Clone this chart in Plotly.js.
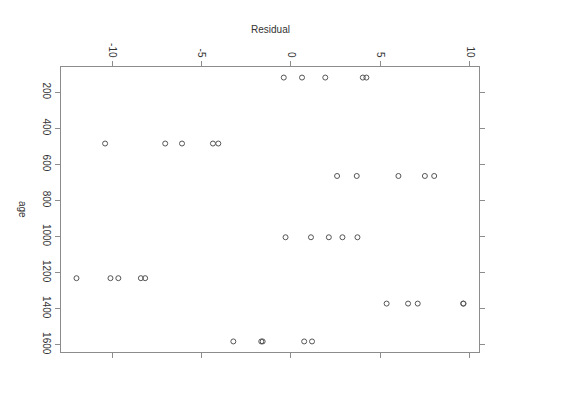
<!DOCTYPE html>
<html>
<head>
<meta charset="utf-8">
<script src="https://cdn.plot.ly/plotly-3.0.1.min.js"></script>
<style>html,body{margin:0;padding:0;background:#fff;}#chart{width:561px;height:397px;}</style>
</head>
<body>
<div id="chart"></div>
<script>
// Data (age groups and residuals per group)
var ages = [118, 484, 664, 1004, 1231, 1372, 1582];
var res118  = [-0.40, 0.62, 1.92, 4.02, 4.22];
var res484  = [-10.39, -7.03, -6.09, -4.36, -4.06];
var res664  = [2.58, 3.68, 6.01, 7.49, 8.01];
var res1004 = [-0.30, 1.12, 2.12, 2.88, 3.72];
var res1231 = [-11.99, -10.09, -9.65, -8.39, -8.15];
var res1372 = [5.35, 6.55, 7.09, 9.63, 9.65];
var res1582 = [-3.22, -1.66, -1.58, 0.74, 1.18];
var xTickVals = [-10, -5, 0, 5, 10];
var xTickText = ['-10', '-5', '0', '5', '10'];
var yTickVals = [200, 400, 600, 800, 1000, 1200, 1400, 1600];
var yTickText = ['200', '400', '600', '800', '1000', '1200', '1400', '1600'];

var groups = [res118, res484, res664, res1004, res1231, res1372, res1582];
var xs = [], ys = [];
groups.forEach(function (g, i) {
  g.forEach(function (v) { xs.push(v); ys.push(ages[i]); });
});

function padRange(arr) {
  var mn = Math.min.apply(null, arr), mx = Math.max.apply(null, arr);
  var p = (mx - mn) * 0.04;
  return [mn - p, mx + p];
}
var xr = padRange(xs);
var yr = padRange(ys);

var axisCol = '#8c8c8c';
var font = {family: 'Liberation Sans, Arial, sans-serif', size: 10, color: '#333'};

var trace = {
  x: xs, y: ys, type: 'scatter', mode: 'markers',
  marker: {symbol: 'circle-open', size: 5, color: '#555', line: {width: 1, color: '#555'}},
  hoverinfo: 'none', showlegend: false
};

var layout = {
  width: 561, height: 397,
  margin: {l: 61, r: 82, t: 67, b: 45},
  paper_bgcolor: '#fff', plot_bgcolor: '#fff',
  font: font,
  xaxis: {
    side: 'top', range: xr, tickvals: xTickVals, ticktext: xTickText,
    tickangle: 90, ticks: 'outside', ticklen: 5, tickcolor: axisCol, tickwidth: 1,
    showline: true, linecolor: axisCol, linewidth: 1, mirror: 'ticks',
    showgrid: false, zeroline: false, tickfont: font
  },
  yaxis: {
    range: [yr[1], yr[0]], tickvals: yTickVals, ticktext: yTickText,
    tickangle: 90, ticks: 'outside', ticklen: 5, tickcolor: axisCol, tickwidth: 1,
    showline: true, linecolor: axisCol, linewidth: 1, mirror: 'ticks',
    showgrid: false, zeroline: false, tickfont: font
  },
  annotations: [
    {text: 'Residual', xref: 'paper', yref: 'paper', x: 0.5, y: 1.133,
     showarrow: false, font: font, xanchor: 'center', yanchor: 'middle'},
    {text: 'age', xref: 'paper', yref: 'paper', x: -0.092, y: 0.5, textangle: 90,
     showarrow: false, font: font, xanchor: 'center', yanchor: 'middle'}
  ]
};

Plotly.newPlot('chart', [trace], layout, {displayModeBar: false, staticPlot: true});
</script>
</body>
</html>
